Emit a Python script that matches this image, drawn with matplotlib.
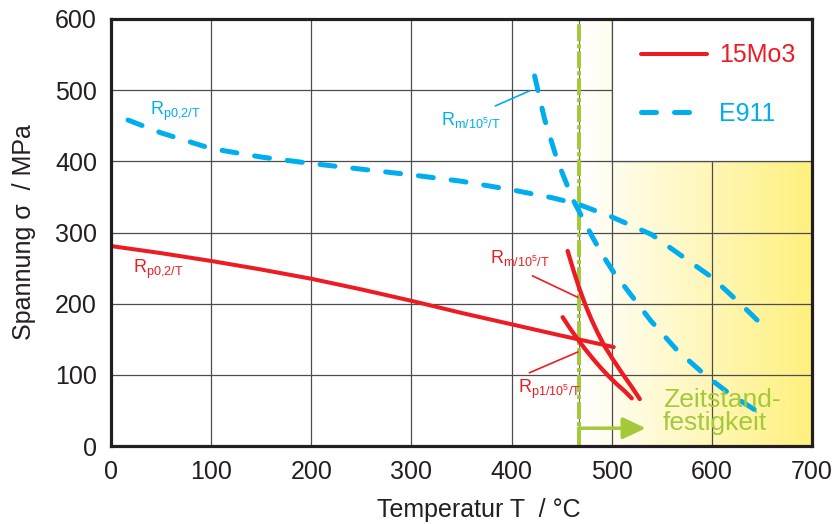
import numpy as np
import matplotlib
matplotlib.use("Agg")
import matplotlib.pyplot as plt
from matplotlib.colors import LinearSegmentedColormap
from matplotlib.patches import Rectangle

plt.rcParams['font.family'] = ['Liberation Sans', 'DejaVu Sans']
plt.rcParams['mathtext.fontset'] = 'custom'
plt.rcParams['mathtext.rm'] = 'Liberation Sans'
plt.rcParams['mathtext.it'] = 'Liberation Sans:italic'
plt.rcParams['mathtext.bf'] = 'Liberation Sans:bold'

# ---- data (temperature in °C, stress in MPa) ----
e911_rp_T = [17, 50, 100, 150, 200, 250, 300, 350, 400, 440, 466, 500, 540, 570, 600, 630, 656]
e911_rp_s = [458, 440, 418, 406, 397, 389, 381, 372, 360, 349, 340, 322, 297, 267, 237, 198, 162]

e911_rm_T = [423, 433, 446, 461, 481, 491, 502, 539, 565, 593, 618, 654]
e911_rm_s = [520, 459, 400, 347, 293, 268, 244, 176, 135, 100, 73, 41]

mo_rp_T = [0, 50, 100, 150, 200, 250, 300, 350, 400, 450, 502]
mo_rp_s = [281, 271, 260, 248, 235, 220, 204, 187, 171, 155, 139]

mo_rm_T = [456, 462, 468, 474, 480, 486, 493, 502, 511, 520, 528]
mo_rm_s = [274, 246, 220, 197, 177, 159, 140, 120, 101, 83, 66]

mo_rp1_T = [451, 458, 465, 473, 481, 489, 497, 505, 513, 520]
mo_rp1_s = [181, 166, 152, 137, 123, 110, 98, 87, 77, 67]

creep_limit_T = 467
x_ticks = [0, 100, 200, 300, 400, 500, 600, 700]
y_ticks = [0, 100, 200, 300, 400, 500, 600]

RED = '#ED1C24'
BLUE = '#00AEEF'
GREEN = '#A4C93A'
INK = '#231F20'
GRID = '#4d4d4d'

fig = plt.figure(figsize=(8.36, 5.24), dpi=100)
ax = fig.add_axes([111/836, 1-446/524, (812-111)/836, (446-19)/524])
ax.set_xlim(0, 700)
ax.set_ylim(0, 600)

# creep-range shading
cmap = LinearSegmentedColormap.from_list('creep', ['#FFFFFF', '#FFF07E'])
grad = np.linspace(0, 1, 256).reshape(1, -1)
ax.imshow(grad, extent=[creep_limit_T, 700, 0, 600], aspect='auto', cmap=cmap,
          interpolation='bilinear', zorder=0.2)

ax.set_xticks(x_ticks)
ax.set_yticks(y_ticks)
ax.set_axisbelow(True)
ax.grid(True, color=GRID, lw=0.9)
ax.tick_params(length=0, labelsize=18, colors=INK, pad=10)

# legend panel
ax.add_patch(Rectangle((500, 400), 200, 200, facecolor='white', edgecolor=GRID,
                       lw=0.9, zorder=0.6))

for sp in ax.spines.values():
    sp.set_linewidth(2.3)
    sp.set_color(INK)
    sp.set_zorder(10)

# creep limit marker
ax.axvline(creep_limit_T, color='#666666', lw=0.8, zorder=1)
ax.axvline(creep_limit_T, color=GREEN, lw=2.9, dashes=(4.2, 0.75, 1.0, 0.75), zorder=1.1)

# E911
l_e911, = ax.plot(e911_rp_T, e911_rp_s, color=BLUE, lw=3.6, dashes=(3, 3.6),
                  dash_capstyle='round', zorder=3)
ax.plot(e911_rm_T, e911_rm_s, color=BLUE, lw=3.6, dashes=(3, 3.6),
        dash_capstyle='round', zorder=3)

# 15Mo3
l_mo, = ax.plot(mo_rp_T, mo_rp_s, color=RED, lw=2.9, solid_capstyle='round',
                solid_joinstyle='round', zorder=4)
ax.plot(mo_rm_T, mo_rm_s, color=RED, lw=3.1, solid_capstyle='round',
        solid_joinstyle='round', zorder=4)
ax.plot(mo_rp1_T, mo_rp1_s, color=RED, lw=3.1, solid_capstyle='round',
        solid_joinstyle='round', zorder=4)

# curve labels
ax.text(39, 465, r'$\mathregular{R_{p0{,}2/T}}$', color=BLUE, fontsize=13, va='baseline', ha='left')
ax.text(330, 451, r'$\mathregular{R_{m/10^5/T}}$', color=BLUE, fontsize=13, va='baseline', ha='left')
ax.plot([384, 418], [478, 499], color=BLUE, lw=1.2, zorder=3)

ax.text(22, 243, r'$\mathregular{R_{p0{,}2/T}}$', color=RED, fontsize=13, va='baseline', ha='left')
ax.text(378, 257, r'$\mathregular{R_{m/10^5/T}}$', color=RED, fontsize=13, va='baseline', ha='left')
ax.plot([421, 466], [239, 209], color=RED, lw=1.2, zorder=4)
ax.text(406, 74, r'$\mathregular{R_{p1/10^5/T}}$', color=RED, fontsize=13, va='baseline', ha='left')
ax.plot([418, 466], [103, 132], color=RED, lw=1.2, zorder=4)

# creep strength arrow and caption
ax.annotate('', xy=(534, 25), xytext=(creep_limit_T, 25),
            arrowprops=dict(arrowstyle='-|>,head_length=0.7,head_width=0.33',
                            color=GREEN, lw=2.5, mutation_scale=20,
                            shrinkA=0, shrinkB=0), zorder=5)
ax.text(551, 48, 'Zeitstand-\nfestigkeit', color=GREEN, fontsize=19,
        ha='left', va='center', linespacing=0.95, zorder=5)

leg = ax.legend(handles=[l_mo, l_e911], labels=['15Mo3', 'E911'],
                loc='upper left', bbox_to_anchor=(0.756, 0.943), frameon=False,
                fontsize=18, handlelength=2.64, handletextpad=0.5,
                labelspacing=1.38, borderpad=0, borderaxespad=0,
                labelcolor='linecolor')
leg.set_zorder(6)

ax.set_xlabel('Temperatur T  / °C', fontsize=18, color=INK)
ax.xaxis.set_label_coords(0.524, -0.122)
ax.set_ylabel('Spannung σ  / MPa', fontsize=18, color=INK, labelpad=14)

fig.savefig('out.png', dpi=100)
